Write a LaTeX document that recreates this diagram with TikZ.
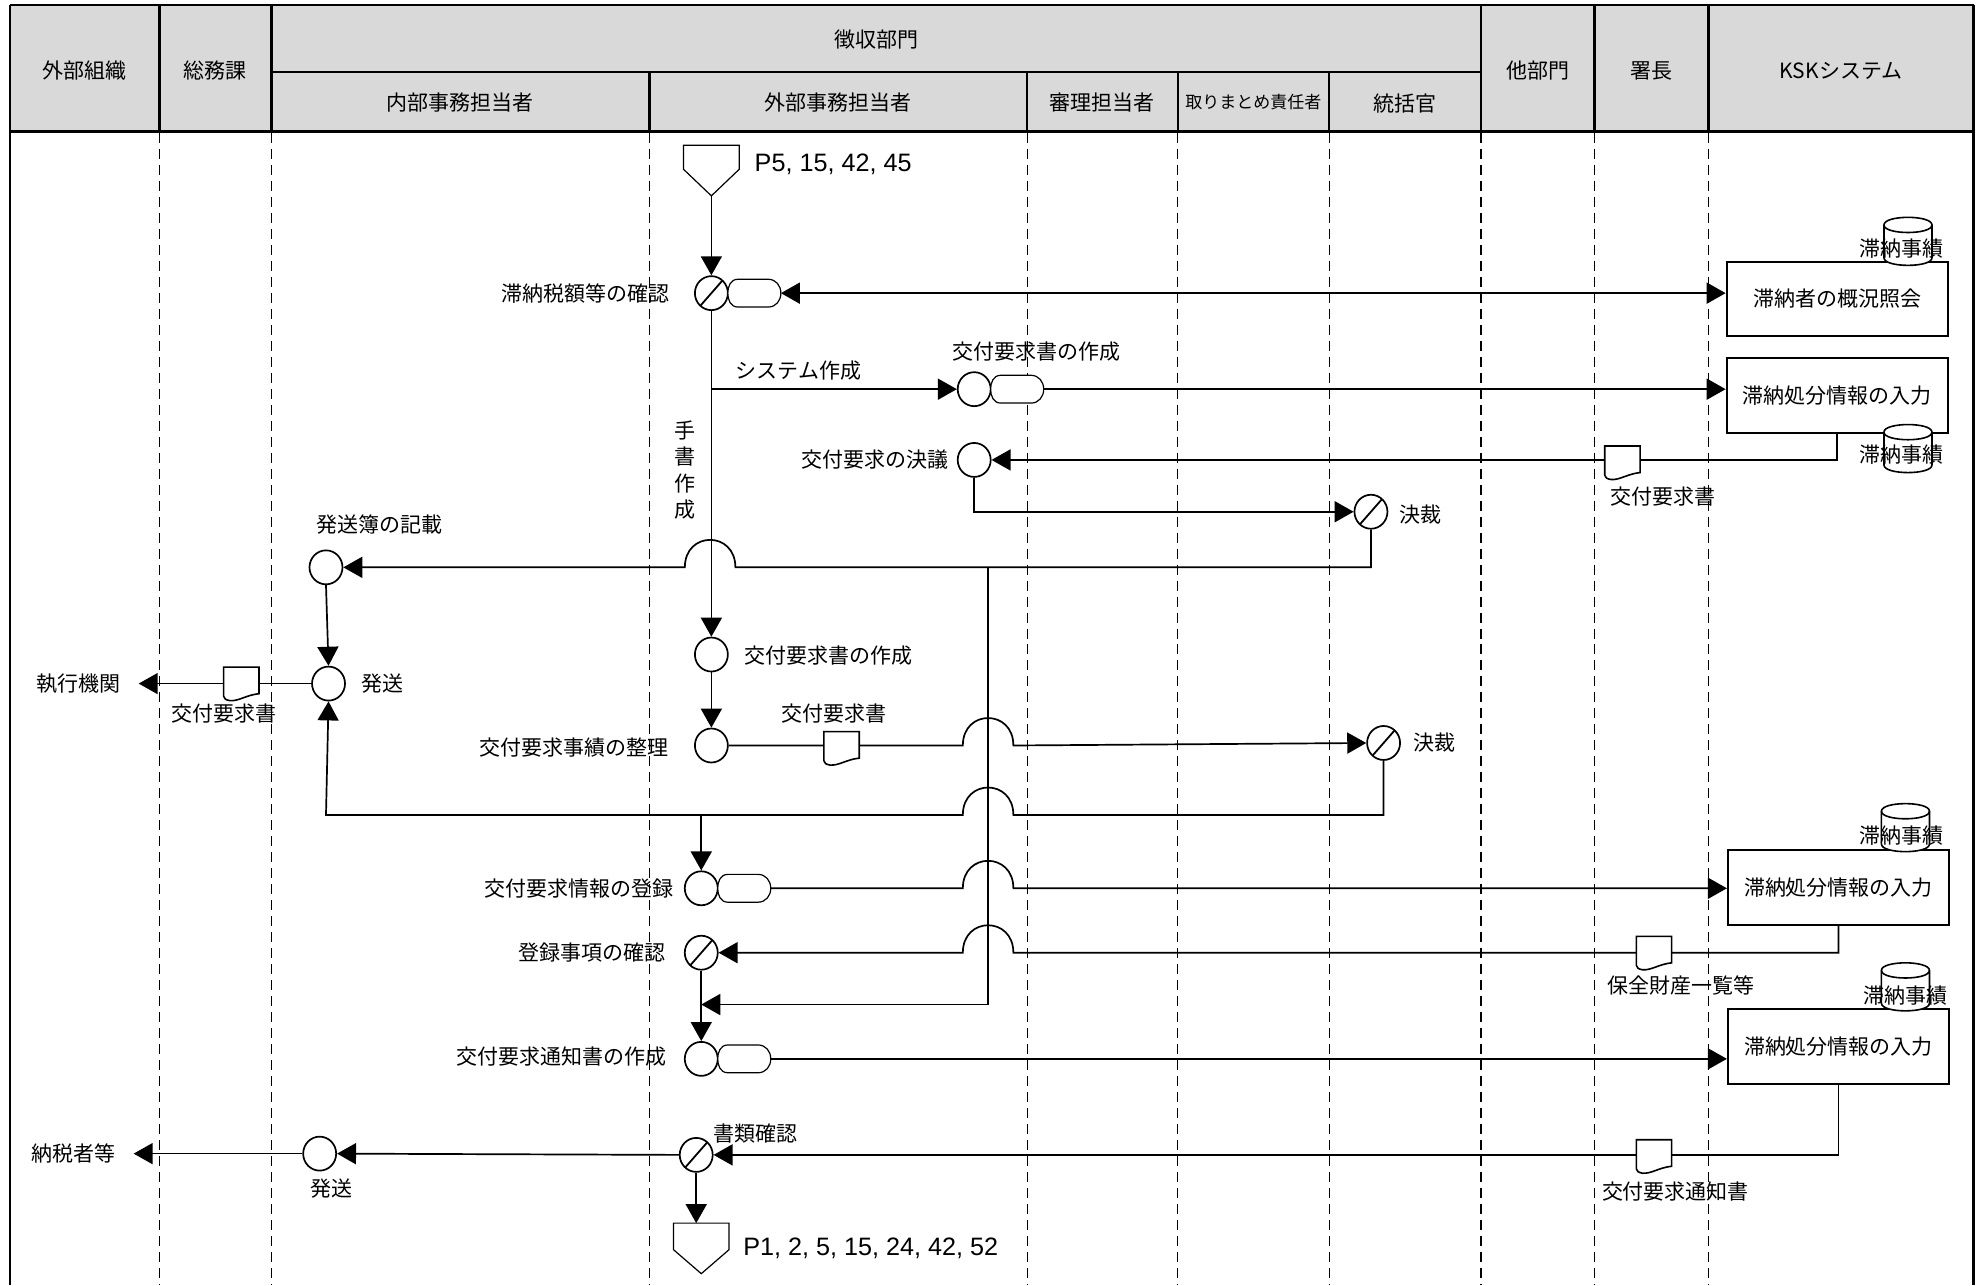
\documentclass[tikz,border=0pt]{standalone}
\usepackage{fontspec}
\setmainfont{Noto Sans CJK JP}
\newfontfamily\latinf{Liberation Sans}
\usetikzlibrary{shapes.geometric,arrows.meta,calc}
\definecolor{hdrgray}{RGB}{217,217,217}
\begin{document}
\begin{tikzpicture}[x=0.632pt,y=-0.632pt,
  lbl/.style={font=\fontsize{10.5}{12}\selectfont, inner sep=0pt},
  plbl/.style={font=\latinf\fontsize{12.6}{14}\selectfont, inner sep=0pt},
  proc/.style={draw, ellipse, minimum width=16.5pt, minimum height=17pt, inner sep=0pt, line width=0.85pt, fill=white},
  chk/.style={proc, path picture={\draw[line width=0.9pt] ($(path picture bounding box.center)+(-7pt,-8pt)$) -- ($(path picture bounding box.center)+(7pt,8pt)$);}},
  sysbox/.style={draw, line width=1pt, minimum width=110.6pt, minimum height=37.3pt, inner sep=0pt, fill=white, font=\fontsize{10.5}{12}\selectfont},
  flow/.style={line width=0.85pt},
  arr/.style={flow, -{Triangle[length=9.5pt,width=10.5pt]}},
  barr/.style={flow, {Triangle[length=9.5pt,width=10.5pt]}-{Triangle[length=9.5pt,width=10.5pt]}},
  lane/.style={line width=0.7pt, dash pattern=on 5pt off 3pt},
  frame/.style={line width=1.3pt},
  hopR/.style 2 args={insert path={-- (#1-20,#2) .. controls (#1-20,#2-29) and (#1+20,#2-29) .. (#1+20,#2)}},
  hopL/.style 2 args={insert path={-- (#1+20,#2) .. controls (#1+20,#2-29) and (#1-20,#2-29) .. (#1-20,#2)}},
  docu/.pic={\draw[line width=0.8pt, fill=white] (-14,-13) -- (14,-13) -- (14,8) .. controls (4,9) and (-2,14) .. (-9,13.5) .. controls (-12,13) and (-14,12) .. (-14,10) -- cycle;},
  disp/.pic={\draw[line width=0.6pt, fill=white] (8,-11) -- (32,-11) .. controls (38,-11) and (42,-6) .. (42,0) .. controls (42,6) and (38,11) .. (32,11) -- (8,11) .. controls (2,11) and (0,5) .. (0,0) .. controls (0,-5) and (2,-11) .. (8,-11) -- cycle;
    \coordinate (-e) at (42,0);},
  cyl/.pic={\draw[line width=0.8pt, fill=white] (-19,-13) -- (-19,13) .. controls (-19,21) and (19,21) .. (19,13) -- (19,-13) .. controls (19,-21) and (-19,-21) .. (-19,-13) -- cycle;
    \draw[line width=0.8pt] (-19,-13) .. controls (-19,-5) and (19,-5) .. (19,-13);},
]
\useasboundingbox (0,0) rectangle (1568.6,1017);

% ---------- header ----------
\fill[hdrgray] (8,4) rectangle (1562,104);
\draw[frame] (8,4) -- (1562,4);
\draw[frame] (8,104) -- (1562,104);
\draw[frame] (8,4) -- (8,1017);
\draw[frame] (1562,4) -- (1562,1017);
\foreach \xx in {126,215,1172,1262,1352} \draw[frame] (\xx,4) -- (\xx,104);
\foreach \xx in {514,813,932,1052} \draw[line width=1.1pt] (\xx,57) -- (\xx,104);
\draw[line width=1.1pt] (215,57) -- (1172,57);
\foreach \xx in {126,215,514,813,932,1052,1172,1262,1352} \draw[lane] (\xx,105) -- (\xx,1017);

\node[lbl] (h1) at (67,56) {外部組織};
\node[lbl] (h2) at (170,56) {総務課};
\node[lbl] (h3) at (694,31) {徴収部門};
\node[lbl] (h4) at (364,81) {内部事務担当者};
\node[lbl] (h5) at (663,81) {外部事務担当者};
\node[lbl] (h6) at (872,81) {審理担当者};
\node[lbl, font=\fontsize{8.5}{10}\selectfont] (h7) at (992,81) {取りまとめ責任者};
\node[lbl] (h8) at (1112,82) {統括官};
\node[lbl] (h9) at (1217,56) {他部門};
\node[lbl] (h10) at (1307,56) {署長};
\node[lbl] (h11) at (1457,56) {KSKシステム};

% ---------- KSK system boxes ----------
\node[sysbox] (b1) at (1454,236.5) {滞納者の概況照会};
\node[sysbox] (b2) at (1454,313) {滞納処分情報の入力};
\node[sysbox] (b3) at (1455,702.5) {滞納処分情報の入力};
\node[sysbox] (b4) at (1455,828) {滞納処分情報の入力};
\pic at (1510,191) {cyl};
\pic at (1510,355) {cyl};
\pic at (1508,655) {cyl};
\pic at (1508,781) {cyl};
\node[lbl] (db1) at (1505,197) {滞納事績};
\node[lbl] (db2) at (1505,360) {滞納事績};
\node[lbl] (db3) at (1505,661) {滞納事績};
\node[lbl] (db4) at (1508,788) {滞納事績};

% ---------- off-page connectors ----------
\draw[line width=0.6pt, fill=white] (541,115) -- (585,115) -- (585,134) -- (563,155) -- (541,134) -- cycle;
\coordinate (optop) at (563,155);
\node[plbl, anchor=west] (p1) at (597,130) {P5, 15, 42, 45};
\draw[line width=0.6pt, fill=white] (533,968) -- (577,968) -- (577,989) -- (555,1008) -- (533,989) -- cycle;
\coordinate (opbot) at (555,968);
\node[plbl, anchor=west] (p2) at (588,988) {P1, 2, 5, 15, 24, 42, 52};

% ---------- process symbols ----------
\node[chk]  (c1)  at (563,232) {};
\node[proc] (c2)  at (771,308) {};
\node[proc] (c3)  at (771,364) {};
\node[chk]  (c4)  at (1085,405) {};
\node[proc] (c5)  at (258,449) {};
\node[proc] (c6)  at (260,541) {};
\node[proc] (c7)  at (563,518) {};
\node[proc] (c8)  at (563,590) {};
\node[chk]  (c9)  at (1095,588) {};
\node[proc] (c10) at (555,703) {};
\node[chk]  (c11) at (555,754) {};
\node[proc] (c12) at (555,838) {};
\node[chk]  (c13) at (551,914) {};
\node[proc] (c14) at (253,913) {};

% ---------- labels ----------
\node[lbl, anchor=east] (l1) at (530,232) {滞納税額等の確認};
\node[lbl] (l2) at (820,278) {交付要求書の作成};
\node[lbl] (l3) at (632,293) {システム作成};
\node[lbl, align=center, font=\fontsize{10.5}{13.1}\selectfont] (l4) at (542,372) {手\\書\\作\\成};
\node[lbl, anchor=east] (l5) at (751,364) {交付要求の決議};
\node[lbl, anchor=west] (l6) at (1107,407) {決裁};
\node[lbl] (l7) at (1316,393) {交付要求書};
\node[lbl] (l8) at (300,415) {発送簿の記載};
\node[lbl, anchor=west] (l9) at (589,519) {交付要求書の作成};
\node[lbl, anchor=west] (l10) at (286,541) {発送};
\node[lbl] (ext1) at (62,541) {執行機関};
\node[lbl] (l11) at (177,565) {交付要求書};
\node[lbl] (l12) at (660,565) {交付要求書};
\node[lbl, anchor=east] (l13) at (529,592) {交付要求事績の整理};
\node[lbl, anchor=west] (l14) at (1118,588) {決裁};
\node[lbl, anchor=east] (l15) at (533,703) {交付要求情報の登録};
\node[lbl, anchor=east] (l16) at (527,754) {登録事項の確認};
\node[lbl] (l17) at (1330,780) {保全財産一覧等};
\node[lbl, anchor=east] (l18) at (528,836) {交付要求通知書の作成};
\node[lbl] (l19) at (598,897) {書類確認};
\node[lbl] (l20) at (1326,943) {交付要求通知書};
\node[lbl] (l21) at (262,941) {発送};
\node[lbl] (ext2) at (58,913) {納税者等};

% ---------- display shapes ----------
\pic (d1) at (576,232) {disp};
\pic (d2) at (784,308) {disp};
\pic (d10) at (568,703) {disp};
\pic (d12) at (568,838) {disp};

% ---------- connectors ----------
\draw[arr] (optop) -- (c1.north);
\draw[barr] (d1-e) -- (d1-e -| b1.west);
\draw[arr] (c1.south) -- (c7.north);
\draw[arr] (c1.south |- c2.west) -- (c2.west);
\draw[arr] (d2-e) -- (d2-e -| b2.west);
\draw[arr] (b2.south) -- (b2.south |- c3.east) -- (c3.east);
\draw[arr] (c3.south) |- (c4.west);
\coordinate (jn) at (782,449);
\draw[arr] (c4.south) -- (c4.south |- jn) [hopL={562}{449}] -- (c5.east);
\coordinate (m1) at (555,795);
\draw[arr] (jn) -- (jn |- m1) -- (m1);
\draw[arr] (c5.south) -- (c6.north);
\draw[arr] (c6.west) -- ([xshift=9pt]ext1.east);
\draw[arr] (c7.south) -- (c8.north);
\draw[arr] (c8.east) [hopR={782}{590}] -- (c9.west);
\coordinate (jb) at (258,645);
\draw[arr] (c9.south) -- (c9.south |- jb) [hopL={782}{645}] -- (jb) -- (c6.south);
\draw[arr] (c10.north |- jb) -- (c10.north);
\draw[arr] (d10-e) [hopR={782}{703}] -- (d10-e -| b3.west);
\draw[arr] (b3.south) -- (b3.south |- c11.east) [hopL={782}{754}] -- (c11.east);
\draw[arr] (c11.south) -- (c12.north);
\draw[arr] (d12-e) -- (d12-e -| b4.west);
\draw[arr] (b4.south) -- (b4.south |- c13.east) -- (c13.east);
\draw[arr] (c13.west) -- (c14.east);
\draw[arr] (c14.west) -- ([xshift=9pt]ext2.east);
\draw[arr] (c13.south) -- (c13.south |- opbot);

% ---------- documents on connectors ----------
\pic at (1284,366) {docu};
\pic at (191,541) {docu};
\pic at (666,592) {docu};
\pic at (1309,754) {docu};
\pic at (1309,915) {docu};
\end{tikzpicture}
\end{document}
